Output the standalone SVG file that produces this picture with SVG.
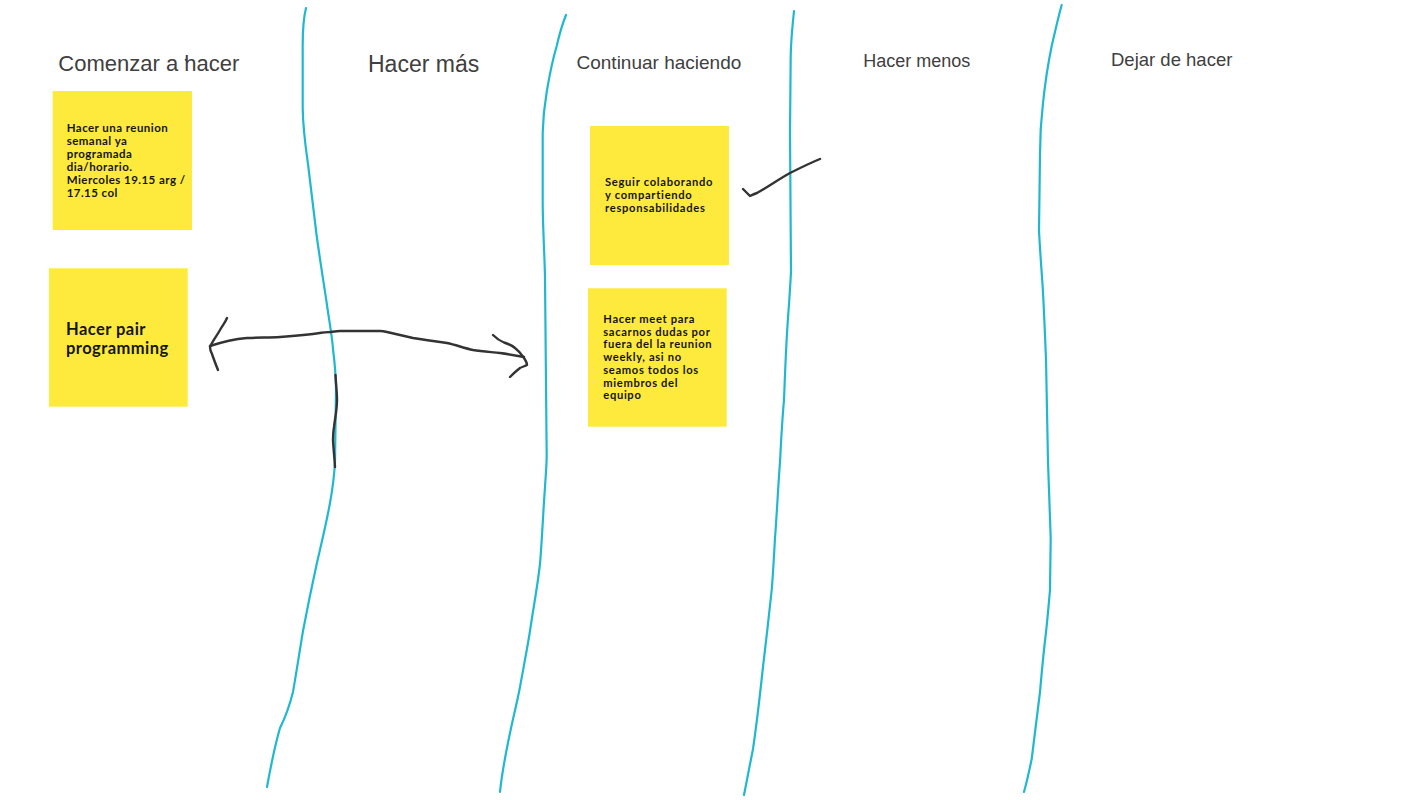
<svg xmlns="http://www.w3.org/2000/svg" width="1422" height="800" viewBox="0 0 1422 800">
<style>
.hdr{font-family:"Liberation Sans",Arial,sans-serif;fill:#404040}
.note rect{fill:#feea3c}
.note text{font-family:Lato,"Open Sans",sans-serif;font-weight:700;fill:#151515}
.lane{fill:none;stroke:#20b8cf;stroke-width:2.2;stroke-linecap:round;stroke-linejoin:round}
.ink{fill:none;stroke:#333;stroke-width:2.4;stroke-linecap:round;stroke-linejoin:round}
</style>
<rect width="1422" height="800" fill="#fff"/>

<g id="lanes">
<path class="lane" d="M306,8 C303,20 302.5,31 302.7,50 L302.7,108 C303,130 306,150 308,164 C311,190 314,215 316.7,236 C320,260 324,285 326.7,303 C329,320 332,335 333,349 C335,365 336,378 336,390 L335,462 C334,480 332,492 330,503 C326,525 321,545 316.7,564 C311,590 307,610 303,631 C299,655 296,675 293,692 C289,708 285,718 280,728 C275,745 271,765 267,787"/>
<path class="lane" d="M566,15 C562,25 559,36 556.7,46 C552,62 549,78 546.7,92 C544,108 543,120 542.7,133 L542.7,205 C543,230 544.5,255 545,277 L546.7,456 C546.5,468 545.5,478 545,487 C543,515 542,540 540,564 C537,590 533,610 530,631 C527,650 523,670 520,687 C517,703 513,718 510,733 C506,752 502,772 500,792"/>
<path class="lane" d="M794,11 C792.5,25 791,40 790.7,56 L790,133 L791,272 C790,290 789,305 788,318 C786,345 785,375 784,400 C782,422 781,442 780,462 C778,488 777,512 775,538 C774,556 773,575 771.7,590 C769,615 766,642 763,667 C760,695 757,722 753,749 C750,765 747,780 744,795"/>
<path class="lane" d="M1061.7,5 C1058,18 1055,32 1051.7,46 C1048,64 1045,84 1043,103 C1041,120 1040,138 1040,154 L1039,231 C1040,250 1041.5,270 1042.7,287 C1044,310 1045,335 1046,359 C1047,395 1047.5,430 1048,462 C1049,490 1050,515 1050.7,538 L1050,590 C1048.5,607 1047,625 1045,641 C1043,658 1041.5,675 1040,692 C1037,715 1034.5,738 1031.7,759 C1029,772 1026.5,783 1024,792"/>
</g>

<g id="headers">
<g id="h-comenzar"><text class="hdr" x="58.3" y="70.7" font-size="22">Comenzar a hacer</text><path d="M185.5,59.5 L187.5,62" stroke="#404040" stroke-width="1.6" stroke-linecap="round"/></g>
<g id="h-mas"><text class="hdr" x="368" y="71.5" font-size="23">Hacer más</text></g>
<g id="h-continuar"><text class="hdr" x="576.5" y="68.5" font-size="19">Continuar haciendo</text></g>
<g id="h-menos"><text class="hdr" x="863.3" y="66.7" font-size="18">Hacer menos</text></g>
<g id="h-dejar"><text class="hdr" x="1111" y="66" font-size="18.5">Dejar de hacer</text></g>
</g>

<g id="note-reunion" class="note">
<rect x="52.7" y="91" width="139.3" height="139"/>
<text font-size="11.5" letter-spacing="0.45"><tspan x="66.7" y="131.5">Hacer una reunion</tspan><tspan x="66.7" y="144.5">semanal ya</tspan><tspan x="66.7" y="157.5">programada</tspan><tspan x="66.7" y="170.5">dia/horario.</tspan><tspan x="66.7" y="183.5">Miercoles 19.15 arg /</tspan><tspan x="66.7" y="196.5">17.15 col</tspan></text>
</g>

<g id="note-pair" class="note">
<rect x="49" y="268.3" width="138.7" height="138.4"/>
<text font-size="16.5" letter-spacing="0.45"><tspan x="66" y="335">Hacer pair</tspan><tspan x="66" y="353.5">programming</tspan></text>
</g>

<g id="note-seguir" class="note">
<rect x="590" y="126" width="139" height="139"/>
<text font-size="11.2" letter-spacing="0.7"><tspan x="605" y="186">Seguir colaborando</tspan><tspan x="605" y="198.7">y compartiendo</tspan><tspan x="605" y="211.7">responsabilidades</tspan></text>
</g>

<g id="note-meet" class="note">
<rect x="588" y="288.3" width="138.7" height="138.4"/>
<text font-size="11.2" letter-spacing="0.65"><tspan x="603.3" y="322.7">Hacer meet para</tspan><tspan x="603.3" y="335.5">sacarnos dudas por</tspan><tspan x="603.3" y="348.3">fuera del la reunion</tspan><tspan x="603.3" y="361">weekly, asi no</tspan><tspan x="603.3" y="374">seamos todos los</tspan><tspan x="603.3" y="386.7">miembros del</tspan><tspan x="603.3" y="399.3">equipo</tspan></text>
</g>

<g id="connectors">
<path class="ink" d="M210,346 C225,341 236,339 247,338 C260,337.5 270,337.5 280,337 C295,336 305,335 313,334 C320,333 326,332 330,332 C334,331.5 337,331 340,331 L380,331 C383,331 385,331.5 387,332 C396,334 404,336 413,338 C425,340 436,341.5 447,343 C456,345 464,348 473,350 C482,351.5 491,352 500,353 C508,354 516,355.5 524,357"/>
<path class="ink" d="M227,318 C225,323 222,326 220,330 C216,337 212,342 210,347 C210,350 211,352 212,354 C214,360 216,365 218,370"/>
<path class="ink" d="M493,335 C497,339 500,341 504,342.5 C509,344 512,345.5 515,348 C519,351 522,355 524,358 C526,361 527,363 527,365 C525,366 522,367 520,368 C516,371 513,374 510,377"/>
<path class="ink" d="M335.5,375 C336,385 337,392 337,400 C337,410 335,418 334,427 C333,433 333,437 333,440 C333.5,450 334.5,458 335,467"/>
<path class="ink" d="M743,189 C746,192 748,194 750,196 C752,195 754,194 757,193 C768,187 779,179 790,173 C800,168 810,163 820,159"/>
</g>
</svg>
